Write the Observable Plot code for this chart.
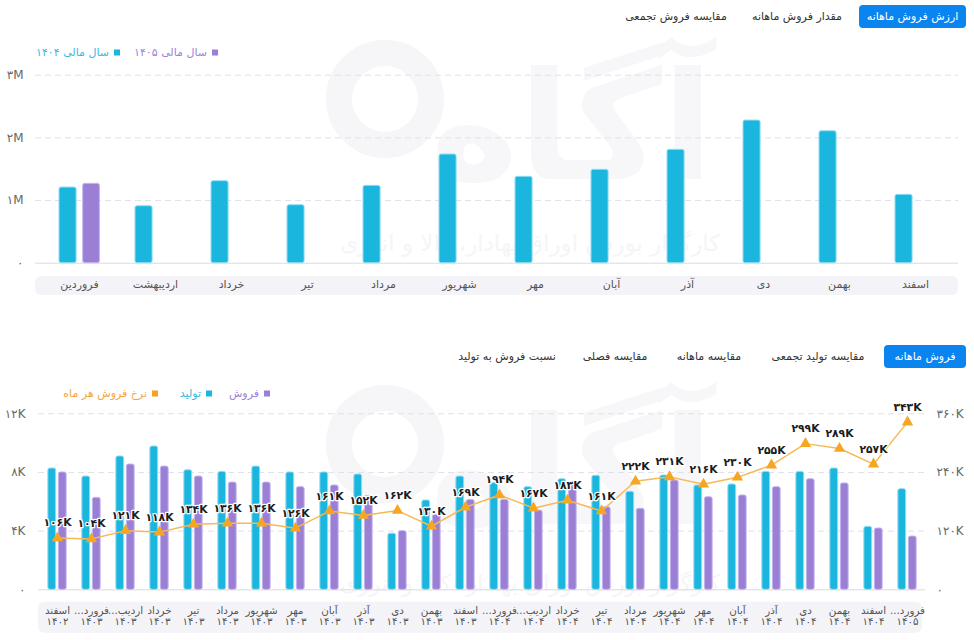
<!DOCTYPE html>
<html lang="fa">
<head>
<meta charset="utf-8">
<script src="https://cdn.jsdelivr.net/npm/d3@7"></script>
<script src="https://cdn.jsdelivr.net/npm/@observablehq/plot@0.6"></script>
<style>
  body { margin: 0; background: #fff; font-family: "DejaVu Sans", sans-serif; }
  #page { position: relative; width: 974px; height: 640px; overflow: hidden; }
  .wm { position: absolute; color: #f5f5f8; white-space: nowrap; direction: rtl; }
  .ring { position: absolute; border: 26px solid #f6f6f9; border-radius: 50%; box-sizing: border-box; }
  .tab { position: absolute; font-size: 11px; color: #333; white-space: nowrap; direction: rtl; transform: translate(-50%, -50%); }
  .tab.active { transform: none; background: #0a85ef; color: #fff; border-radius: 4px;
                display: flex; align-items: center; justify-content: center; }
  .legend { position: absolute; font-size: 11px; white-space: nowrap; direction: rtl; transform: translateY(-50%); }
  .sw { display: inline-block; width: 6px; height: 6px; margin-left: 5px; vertical-align: middle; }
  .chart { position: absolute; left: 0; }
</style>
</head>
<body>
<div id="page">
  <!-- faint brand watermark behind both charts -->
  <div class="ring" style="left:326px;top:40px;width:118px;height:118px;"></div>
  <div class="wm" style="left:430px;top:40px;font-size:150px;font-weight:bold;color:#f7f7f9;">آگاه</div>
  <div class="wm" style="left:340px;top:230px;font-size:23px;">کارگزار بورس اوراق بهادار، کالا و انرژی</div>
  <div class="ring" style="left:326px;top:385px;width:118px;height:118px;"></div>
  <div class="wm" style="left:430px;top:385px;font-size:150px;font-weight:bold;color:#f7f7f9;">آگاه</div>
  <div class="wm" style="left:340px;top:570px;font-size:23px;">کارگزار بورس اوراق بهادار، کالا و انرژی</div>

  <!-- tabs: monthly sales value -->
  <div class="tab active" style="left:859px;top:5px;width:107px;height:23px;">ارزش فروش ماهانه</div>
  <div class="tab" style="left:797px;top:16px;">مقدار فروش ماهانه</div>
  <div class="tab" style="left:676px;top:16px;">مقایسه فروش تجمعی</div>

  <!-- legend: fiscal years -->
  <div class="legend" style="right:756px;top:52px;color:#9d83d8;"><span class="sw" style="background:#9a7fd5"></span>سال مالی ۱۴۰۵</div>
  <div class="legend" style="right:854px;top:52px;color:#3bb8e0;"><span class="sw" style="background:#1bb6de"></span>سال مالی ۱۴۰۴</div>

  <div id="top" class="chart" style="top:60px;"></div>

  <!-- tabs: production and sales -->
  <div class="tab active" style="left:884px;top:345px;width:82px;height:23px;">فروش ماهانه</div>
  <div class="tab" style="left:818px;top:356px;">مقایسه تولید تجمعی</div>
  <div class="tab" style="left:709px;top:356px;">مقایسه ماهانه</div>
  <div class="tab" style="left:615px;top:356px;">مقایسه فصلی</div>
  <div class="tab" style="left:507px;top:356px;">نسبت فروش به تولید</div>

  <!-- legend: sales / production / monthly rate -->
  <div class="legend" style="right:704px;top:393px;color:#9d83d8;"><span class="sw" style="background:#9a7fd5"></span>فروش</div>
  <div class="legend" style="right:762px;top:393px;color:#3bb8e0;"><span class="sw" style="background:#1bb6de"></span>تولید</div>
  <div class="legend" style="right:816px;top:393px;color:#f4a541;"><span class="sw" style="background:#f7a21b"></span>نرخ فروش هر ماه</div>

  <div id="bottom" class="chart" style="top:400px;"></div>
</div>

<script>
// Persian digits for every number shown
const fa = s => String(s).replace(/\d/g, c => "۰۱۲۳۴۵۶۷۸۹"[+c]);

const CYAN = "#1bb6de", CYAN_EDGE = "#8fdcf2";
const PURPLE = "#9a7fd5", PURPLE_EDGE = "#c4b4ec";
const ORANGE = "#f6a623", ORANGE_LINE = "#f7b955";
const GRID = "#dfe0ea";

// ---- monthly sales value by fiscal year ----
const months = ["فروردین", "اردیبهشت", "خرداد", "تیر", "مرداد", "شهریور", "مهر", "آبان", "آذر", "دی", "بهمن", "اسفند"];
const value1404 = [1207000, 909000, 1308000, 925000, 1234000, 1734000, 1378000, 1490000, 1809000, 2276000, 2105000, 1091000];
const value1405 = [1266000];
const valueTicks = [0, 1000000, 2000000, 3000000];

// ---- monthly production, sales and sales rate ----
const periodMonths = ["اسفند", "فرورد...", "اردیب...", "خرداد", "تیر", "مرداد", "شهریور", "مهر", "آبان", "آذر", "دی", "بهمن", "اسفند",
                      "فرورد...", "اردیب...", "خرداد", "تیر", "مرداد", "شهریور", "مهر", "آبان", "آذر", "دی", "بهمن", "اسفند", "فرورد..."];
const periodYears = ["۱۴۰۲", "۱۴۰۳", "۱۴۰۳", "۱۴۰۳", "۱۴۰۳", "۱۴۰۳", "۱۴۰۳", "۱۴۰۳", "۱۴۰۳", "۱۴۰۳", "۱۴۰۳", "۱۴۰۳", "۱۴۰۳",
                     "۱۴۰۴", "۱۴۰۴", "۱۴۰۴", "۱۴۰۴", "۱۴۰۴", "۱۴۰۴", "۱۴۰۴", "۱۴۰۴", "۱۴۰۴", "۱۴۰۴", "۱۴۰۴", "۱۴۰۴", "۱۴۰۵"];
const production = [8270, 7720, 9090, 9770, 8150, 8040, 8400, 8000, 8000, 7860, 3820, 6090, 7720,
                    7270, 7000, 7540, 7770, 6680, 7790, 7110, 7180, 8040, 8040, 8270, 4290, 6860];
const sales = [8000, 6270, 8540, 8400, 7720, 7310, 7310, 7000, 7110, 6400, 4000, 5100, 6130,
               6130, 5400, 7300, 5630, 5520, 7450, 6310, 6430, 7000, 7540, 7250, 4180, 3630];
const saleRate = [106000, 104000, 121000, 118000, 134000, 136000, 136000, 126000, 161000, 152000, 162000, 130000, 169000,
                  194000, 167000, 183000, 161000, 222000, 231000, 216000, 230000, 255000, 299000, 289000, 257000, 343000];
const qtyTicks = [0, 4000, 8000, 12000];
const RATE_PER_QTY = 30; // right axis (rate) = left axis (quantity) × 30

function addAxisBand(svg, x, y, w, h) {
  d3.select(svg).insert("rect", ":first-child")
    .attr("x", x).attr("y", y).attr("width", w).attr("height", h)
    .attr("rx", 6).attr("fill", "#f4f4f8");
}

// ---------- top chart ----------
{
  const W = 974, H = 242, ML = 35, MR = 16;
  const bw = (W - ML - MR) / months.length;
  const rows1404 = months.map((m, i) => ({month: m, value: value1404[i]}));
  const rows1405 = value1405.map((v, i) => ({month: months[i], value: v}));
  const chart = Plot.plot({
    width: W, height: H,
    marginTop: 14.7, marginBottom: 39.3, marginLeft: ML, marginRight: MR,
    style: {background: "transparent", color: "#666", fontFamily: "DejaVu Sans, sans-serif", overflow: "visible"},
    x: {domain: months, padding: 0, label: null},
    y: {domain: [0, 3000000], label: null},
    marks: [
      Plot.gridY(valueTicks.slice(1), {stroke: GRID, strokeOpacity: 1, strokeDasharray: "6,4"}),
      Plot.ruleY([0], {stroke: "#d9dae4"}),
      Plot.barY(rows1404, {x: "month", y: "value", fill: CYAN, stroke: CYAN_EDGE, strokeWidth: 1,
                           insetLeft: 18, insetRight: bw - 36, rx: 2}),
      Plot.barY(rows1405, {x: "month", y: "value", fill: PURPLE, stroke: PURPLE_EDGE, strokeWidth: 1,
                           insetLeft: 41.7, insetRight: bw - 59.3, rx: 2}),
      Plot.axisY({ticks: valueTicks, tickSize: 0, tickPadding: 12, fontSize: 12,
                  tickFormat: d => d === 0 ? "۰" : fa(d / 1e6) + "M"}),
      Plot.axisX({tickSize: 0, tickPadding: 17, fontSize: 11, fill: "#555"})
    ]
  });
  addAxisBand(chart, ML, 216, W - ML - MR, 19);
  document.getElementById("top").append(chart);
}

// ---------- bottom chart ----------
{
  const W = 974, H = 240, ML = 38, MR = 49;
  const keys = periodMonths.map((m, i) => m + "\n" + periodYears[i]);
  const bw = (W - ML - MR) / keys.length;
  const rows = keys.map((k, i) => ({key: k, prod: production[i], sale: sales[i], rate: saleRate[i]}));
  const rateY = d => d.rate / RATE_PER_QTY;
  const chart = Plot.plot({
    width: W, height: H,
    marginTop: 13.3, marginBottom: 50.7, marginLeft: ML, marginRight: MR,
    style: {background: "transparent", color: "#666", fontFamily: "DejaVu Sans, sans-serif", overflow: "visible"},
    x: {domain: keys, padding: 0, label: null},
    y: {domain: [0, 12000], label: null},
    marks: [
      Plot.gridY(qtyTicks.slice(1), {stroke: GRID, strokeOpacity: 1, strokeDasharray: "6,4"}),
      Plot.ruleY([0], {stroke: "#d9dae4"}),
      Plot.barY(rows, {x: "key", y: "prod", fill: CYAN, stroke: CYAN_EDGE, strokeWidth: 1,
                       insetLeft: bw / 2 - 9.2, insetRight: bw / 2 + 1.3, rx: 2}),
      Plot.barY(rows, {x: "key", y: "sale", fill: PURPLE, stroke: PURPLE_EDGE, strokeWidth: 1,
                       insetLeft: bw / 2 + 1.3, insetRight: bw / 2 - 9.2, rx: 2}),
      Plot.line(rows, {x: "key", y: rateY, stroke: ORANGE_LINE, strokeWidth: 1.5}),
      Plot.dot(rows, {x: "key", y: rateY, symbol: "triangle", r: 4.2, fill: ORANGE, stroke: null}),
      Plot.text(rows, {x: "key", y: rateY, text: d => fa(d.rate / 1000) + "K", dy: -15,
                       fontSize: 10.8, fontWeight: "bold", fill: "#1c1c1c", stroke: "white", strokeWidth: 2.5}),
      Plot.axisY({anchor: "left", ticks: qtyTicks, tickSize: 0, tickPadding: 13, fontSize: 12,
                  tickFormat: d => d === 0 ? "۰" : fa(d / 1000) + "K"}),
      Plot.axisY({anchor: "right", ticks: qtyTicks, tickSize: 0, tickPadding: 11, fontSize: 12,
                  tickFormat: d => d === 0 ? "۰" : fa(d * RATE_PER_QTY / 1000) + "K"}),
      Plot.axisX({tickSize: 0, tickPadding: 17, fontSize: 10.3, lineHeight: 1.05, fill: "#555"})
    ]
  });
  addAxisBand(chart, ML, 201.7, W - ML - MR - 3, 31);
  d3.select(chart).selectAll("g[aria-label='x-axis tick label'] text").attr("direction", "rtl");
  document.getElementById("bottom").append(chart);
}
</script>
</body>
</html>
